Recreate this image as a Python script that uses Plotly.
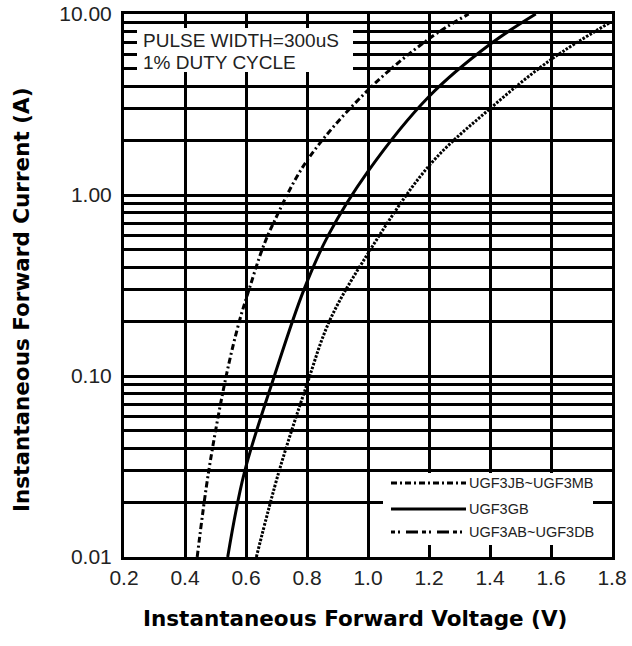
import plotly.graph_objects as go

# ---- data ----
volt_ab = [0.44, 0.478, 0.535, 0.578, 0.61, 0.653, 0.69, 0.80, 1.00, 1.20, 1.33]
curr_ab = [0.01, 0.03, 0.10, 0.20, 0.30, 0.50, 0.70, 1.55, 3.8, 7.3, 10.0]

volt_gb = [0.54, 0.594, 0.693, 0.79, 0.87, 1.00, 1.20, 1.40, 1.55]
curr_gb = [0.01, 0.029, 0.10, 0.30, 0.60, 1.35, 3.5, 6.8, 10.0]

volt_jb = [0.634, 0.709, 0.80, 0.873, 0.98, 1.20, 1.40, 1.60, 1.79]
curr_jb = [0.01, 0.03, 0.09, 0.20, 0.42, 1.45, 3.0, 5.6, 8.9]

x_ticks = [0.2, 0.4, 0.6, 0.8, 1.0, 1.2, 1.4, 1.6, 1.8]
x_ticktext = ["0.2", "0.4", "0.6", "0.8", "1.0", "1.2", "1.4", "1.6", "1.8"]
y_decades = [0.01, 0.1, 1.0, 10.0]
y_decade_text = ["0.01", "0.10", "1.00", "10.00"]

legend_names = ["UGF3JB~UGF3MB", "UGF3GB", "UGF3AB~UGF3DB"]
note_lines = ["PULSE WIDTH=300uS", "1% DUTY CYCLE"]

x_title = "Instantaneous Forward Voltage (V)"
y_title = "Instantaneous Forward Current (A)"

# ---- layout geometry (page pixels) ----
W, H = 632, 646
L, R, T, B = 124, 612, 14, 557   # plot area edges


def px(x):
    return (x - L) / (R - L)


def py(y):
    return (B - y) / (B - T)


# full set of log grid positions (1..9 per decade)
y_tickvals, y_ticktext = [], []
for d, lab in zip(y_decades[:-1], y_decade_text[:-1]):
    for k in range(1, 10):
        y_tickvals.append(round(d * k, 4))
        y_ticktext.append(lab if k == 1 else "")
y_tickvals.append(y_decades[-1])
y_ticktext.append(y_decade_text[-1])

fig = go.Figure()
fig.add_trace(go.Scatter(x=volt_ab, y=curr_ab, mode="lines", name=legend_names[2],
                         line=dict(color="black", width=3, dash="6px,3px,2px,3px", shape="spline")))
fig.add_trace(go.Scatter(x=volt_gb, y=curr_gb, mode="lines", name=legend_names[1],
                         line=dict(color="black", width=3, dash="solid", shape="spline")))
fig.add_trace(go.Scatter(x=volt_jb, y=curr_jb, mode="lines", name=legend_names[0],
                         line=dict(color="black", width=3, dash="2.5px,1.5px", shape="spline")))

font_tick = dict(family="Liberation Sans, Arial, sans-serif", size=21, color="#222")

fig.update_xaxes(range=[0.2, 1.8], tickmode="array", tickvals=x_ticks, ticktext=x_ticktext,
                 showgrid=True, gridcolor="black", gridwidth=3, zeroline=False,
                 showline=True, linecolor="black", linewidth=3, mirror=True,
                 ticks="", tickfont=font_tick, ticklabelstandoff=0, automargin=False,
                 ticklabeloverflow="allow")
fig.update_yaxes(type="log", range=[-2, 1], tickmode="array", tickvals=y_tickvals,
                 ticktext=y_ticktext, showgrid=True, gridcolor="black", gridwidth=3,
                 zeroline=False, showline=True, linecolor="black", linewidth=3, mirror=True,
                 ticks="", tickfont=font_tick, ticklabelstandoff=5, automargin=False,
                 ticklabeloverflow="allow")

shapes = []
annotations = []
# note box (white, hides grid)
shapes.append(dict(type="rect", xref="paper", yref="paper", x0=px(137), x1=px(353),
                   y0=py(72), y1=py(28), fillcolor="white", line=dict(width=0), layer="above"))
# legend box
shapes.append(dict(type="rect", xref="paper", yref="paper", x0=px(383), x1=px(593),
                   y0=py(545), y1=py(473), fillcolor="white", line=dict(width=0), layer="above"))

note_font = dict(family="Liberation Sans, Arial, sans-serif", size=19, color="#222")
for i, t in enumerate(note_lines):
    annotations.append(dict(text=t, xref="paper", yref="paper", x=px(141), y=py(41 + 22 * i),
                            xanchor="left", yanchor="middle", showarrow=False, font=note_font))

leg_styles = ["6px,3px,2px,3px", "solid", "4px,3px,2px,6px,12px,4px"]
leg_rows = [483, 509, 532]
leg_font = dict(family="Liberation Sans, Arial, sans-serif", size=14.5, color="#222")
for name, st, yy in zip(legend_names, leg_styles, leg_rows):
    shapes.append(dict(type="line", xref="paper", yref="paper", x0=px(391), x1=px(466),
                       y0=py(yy), y1=py(yy), line=dict(color="black", width=3, dash=st),
                       layer="above"))
    annotations.append(dict(text=name, xref="paper", yref="paper", x=px(467), y=py(yy),
                            xanchor="left", yanchor="middle", showarrow=False, font=leg_font))

title_font = dict(family="DejaVu Sans, sans-serif", size=21.5, color="black")
annotations.append(dict(text="<b>%s</b>" % x_title, xref="paper", yref="paper",
                        x=px(355), y=py(618), xanchor="center", yanchor="middle",
                        showarrow=False, font=title_font))
annotations.append(dict(text="<b>%s</b>" % y_title, xref="paper", yref="paper",
                        x=px(21), y=py(300), xanchor="center", yanchor="middle",
                        textangle=-90, showarrow=False, font=title_font))

fig.update_layout(width=W, height=H,
                  margin=dict(l=L, r=W - R, t=T, b=H - B),
                  paper_bgcolor="white", plot_bgcolor="white", showlegend=False,
                  shapes=shapes, annotations=annotations)

fig.write_html("out.html", config={"displayModeBar": False},
               post_script="document.body.style.margin='0';document.body.style.overflow='hidden';")
